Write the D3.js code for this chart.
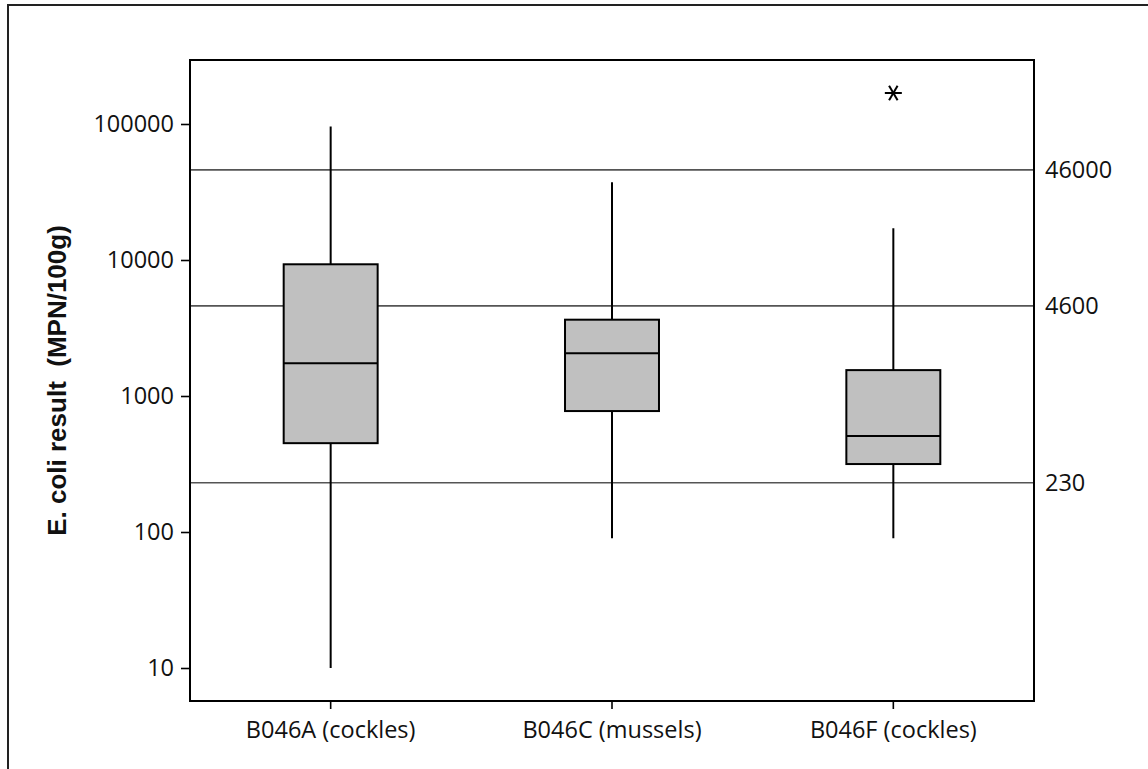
<!DOCTYPE html>
<html>
<head>
<meta charset="utf-8">
<script src="https://cdn.jsdelivr.net/npm/d3@7"></script>
<style>
  body { margin: 0; background: #fff; }
  svg { display: block; }
  .tick-label { font-family: "Open Sans", sans-serif; font-size: 23.5px; fill: #111; }
</style>
</head>
<body>
<div class="chart-container"></div>
<script>
// Data
const categories = ["B046A (cockles)", "B046C (mussels)", "B046F (cockles)"];
const whiskerLow  = [10, 90, 90];
const q1          = [450, 775, 316];
const median      = [1740, 2060, 508];
const q3          = [9300, 3640, 1550];
const whiskerHigh = [96000, 37300, 17100];
const outlierCategory = ["B046F (cockles)"];
const outlierValue    = [169000];
const refLevels = [46000, 4600, 230];
const yTicks = [10, 100, 1000, 10000, 100000];

const width = 1148, height = 769;
const margin = {top: 60, right: 114, bottom: 68, left: 190};

const svg = d3.select(".chart-container")
  .append("svg")
  .attr("width", width)
  .attr("height", height);

// outer frame (only top/left edges visible in the picture)
svg.append("rect")
  .attr("x", 8).attr("y", 5)
  .attr("width", width + 20).attr("height", height + 20)
  .attr("fill", "none").attr("stroke", "#222").attr("stroke-width", 2);

const x = d3.scaleBand()
  .domain(categories)
  .range([margin.left, width - margin.right])
  .paddingInner(0.666)
  .paddingOuter(0.333);

const y = d3.scaleLog()
  .domain([5.72, 295500])
  .range([height - margin.bottom, margin.top]);

const g = svg.append("g");

// reference lines
g.selectAll(".ref")
  .data(refLevels)
  .enter().append("line")
  .attr("class", "ref")
  .attr("x1", margin.left).attr("x2", width - margin.right)
  .attr("y1", d => y(d)).attr("y2", d => y(d))
  .attr("stroke", "#555").attr("stroke-width", 1.6);

g.selectAll(".ref-label")
  .data(refLevels)
  .enter().append("text")
  .attr("class", "tick-label")
  .attr("x", width - margin.right + 11)
  .attr("y", d => y(d))
  .attr("dy", "0.35em")
  .text(d => d);

// boxes
const idx = d3.range(categories.length);
const boxes = g.selectAll(".box")
  .data(idx)
  .enter().append("g")
  .attr("class", "box");

boxes.append("line")
  .attr("x1", i => x(categories[i]) + x.bandwidth() / 2)
  .attr("x2", i => x(categories[i]) + x.bandwidth() / 2)
  .attr("y1", i => y(whiskerLow[i]))
  .attr("y2", i => y(whiskerHigh[i]))
  .attr("stroke", "#000").attr("stroke-width", 2);

boxes.append("rect")
  .attr("x", i => x(categories[i]))
  .attr("width", x.bandwidth())
  .attr("y", i => y(q3[i]))
  .attr("height", i => y(q1[i]) - y(q3[i]))
  .attr("fill", "#c0c0c0")
  .attr("stroke", "#000").attr("stroke-width", 2);

boxes.append("line")
  .attr("x1", i => x(categories[i]))
  .attr("x2", i => x(categories[i]) + x.bandwidth())
  .attr("y1", i => y(median[i]))
  .attr("y2", i => y(median[i]))
  .attr("stroke", "#000").attr("stroke-width", 2);

// outliers drawn as asterisks
const ast = g.selectAll(".outlier")
  .data(outlierValue)
  .enter().append("g")
  .attr("class", "outlier")
  .attr("transform", (d, i) => "translate(" + (x(outlierCategory[i]) + x.bandwidth() / 2) + "," + y(d) + ")");

[0, 60, 120].forEach(a => {
  const r = 8.5, rad = a * Math.PI / 180;
  ast.append("line")
    .attr("x1", -r * Math.cos(rad)).attr("y1", -r * Math.sin(rad))
    .attr("x2", r * Math.cos(rad)).attr("y2", r * Math.sin(rad))
    .attr("stroke", "#000").attr("stroke-width", 2);
});

// axes
const yAxis = d3.axisLeft(y)
  .tickValues(yTicks)
  .tickFormat(d3.format("d"))
  .tickSize(9)
  .tickPadding(7);

const yg = svg.append("g")
  .attr("transform", "translate(" + margin.left + ",0)")
  .call(yAxis);
yg.select(".domain").remove();
yg.selectAll("line").attr("stroke", "#000").attr("stroke-width", 1.6);
yg.selectAll("text").attr("class", "tick-label").attr("font-family", null).attr("font-size", null);

const xAxis = d3.axisBottom(x)
  .tickSize(8)
  .tickPadding(12);

const xg = svg.append("g")
  .attr("transform", "translate(0," + (height - margin.bottom) + ")")
  .call(xAxis);
xg.select(".domain").remove();
xg.selectAll("line").attr("stroke", "#000").attr("stroke-width", 1.6);
xg.selectAll("text").attr("class", "tick-label").attr("font-family", null).attr("font-size", null);

// plot frame
svg.append("rect")
  .attr("x", margin.left).attr("y", margin.top)
  .attr("width", width - margin.left - margin.right)
  .attr("height", height - margin.top - margin.bottom)
  .attr("fill", "none").attr("stroke", "#000").attr("stroke-width", 2);

// y axis title
svg.append("text")
  .attr("transform", "translate(66," + ((margin.top + height - margin.bottom) / 2) + ") rotate(-90)")
  .attr("text-anchor", "middle")
  .attr("font-family", "'Liberation Sans', Arial, sans-serif")
  .attr("font-weight", "bold")
  .attr("font-size", 26)
  .attr("fill", "#111")
  .attr("xml:space", "preserve")
  .text("E. coli result  (MPN/100g)");
</script>
</body>
</html>
